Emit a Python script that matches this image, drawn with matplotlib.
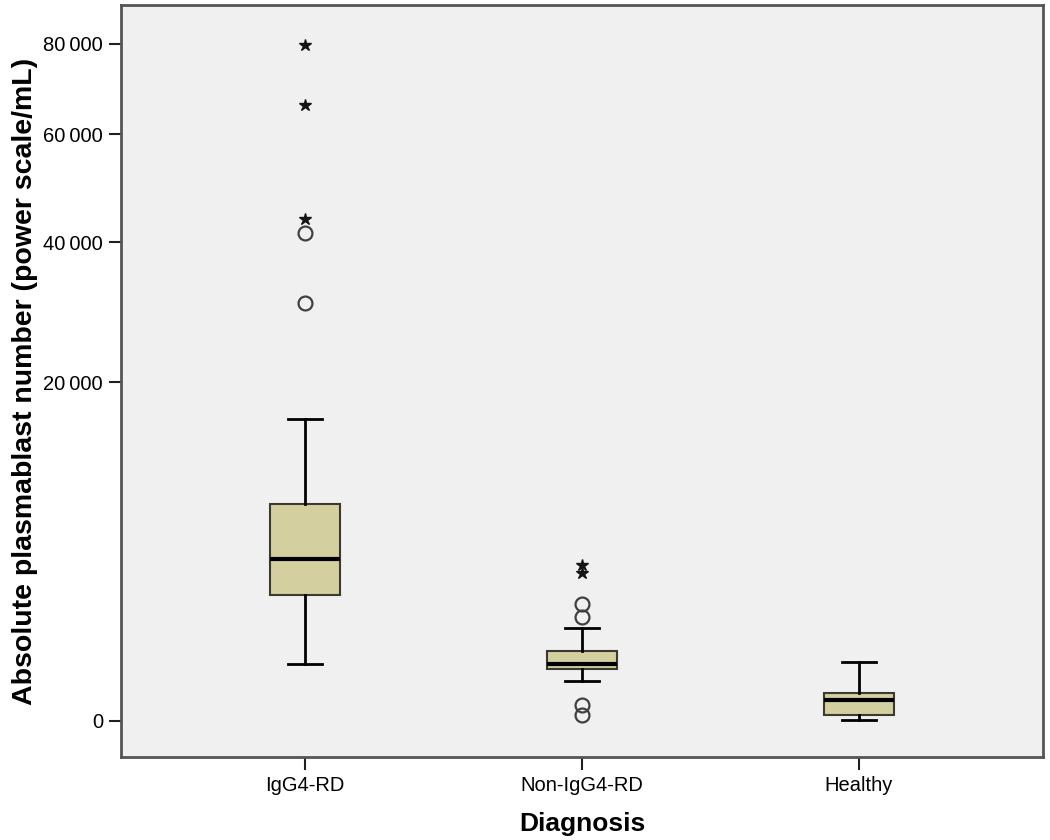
import numpy as np
import matplotlib
matplotlib.use("Agg")
import matplotlib.pyplot as plt

categories = ["IgG4-RD", "Non-IgG4-RD", "Healthy"]
whisker_low = [566, 279, 0.2]
q1 = [2768, 471, 6.3]
median = [4575, 566, 77]
q3 = [8210, 854, 137]
whisker_high = [15900, 1508, 607]
# outliers (circles) and extremes (stars)
outliers_circle = [[41520, 30460], [2386, 1886, 44.6, 6.3], []]
extremes_star = [[79700, 66150, 43930], [4243, 3819], []]

ytick_values = [0, 20000, 40000, 60000, 80000]
ytick_labels = ["0", "20\u2009000", "40\u2009000", "60\u2009000", "80\u2009000"]

plt.rcParams['font.family'] = ['Liberation Sans', 'DejaVu Sans']

fig = plt.figure(figsize=(10.5, 8.4), dpi=100)
ax = fig.add_axes([121/1050, 1-757/840, (1043-121)/1050, (757-5)/840])

def fwd(v):
    v = np.asarray(v, dtype=float)
    return np.sign(v) * np.sqrt(np.abs(v))

def inv(v):
    v = np.asarray(v, dtype=float)
    return np.sign(v) * v**2

ax.set_yscale('function', functions=(fwd, inv))
ax.set_facecolor('#f0f0f0')

positions = [1, 2, 3]
stats = []
for i in range(3):
    stats.append(dict(med=median[i], q1=q1[i], q3=q3[i],
                      whislo=whisker_low[i], whishi=whisker_high[i], fliers=[]))

ax.bxp(stats, positions=positions, widths=0.253, patch_artist=True,
       showfliers=False,
       boxprops=dict(facecolor='#d4cf9f', edgecolor='#3a3a30', linewidth=1.5),
       medianprops=dict(color='black', linewidth=3),
       whiskerprops=dict(color='black', linewidth=2),
       capprops=dict(color='black', linewidth=2),
       capwidths=0.123)

for i, p in enumerate(positions):
    if outliers_circle[i]:
        ax.plot([p]*len(outliers_circle[i]), outliers_circle[i], 'o',
                mfc='none', mec='#404040', mew=1.6, ms=10, zorder=4)
    if extremes_star[i]:
        ax.plot([p]*len(extremes_star[i]), extremes_star[i], '*',
                color='#151515', ms=9, zorder=4)

ax.set_xlim(0.336, 3.664)
ax.set_ylim(-226, 89380)
ax.set_yticks(ytick_values)
ax.set_yticklabels(ytick_labels, fontsize=14.5)
ax.set_xticks(positions)
ax.set_xticklabels(categories, fontsize=14.5)
ax.yaxis.set_minor_locator(matplotlib.ticker.NullLocator())
ax.tick_params(axis='y', direction='out', length=9, width=1.5, color='#202020', pad=4)
ax.tick_params(axis='x', direction='out', length=9, width=1.5, color='#202020', pad=5)

for s in ax.spines.values():
    s.set_color('#555555')
    s.set_linewidth(2)

ax.set_ylabel("Absolute plasmablast number (power scale/mL)", fontsize=20.5,
              fontweight='bold', labelpad=4)
ax.set_xlabel("Diagnosis", fontsize=19, fontweight='bold', labelpad=12)

fig.savefig("out.png", dpi=100)
